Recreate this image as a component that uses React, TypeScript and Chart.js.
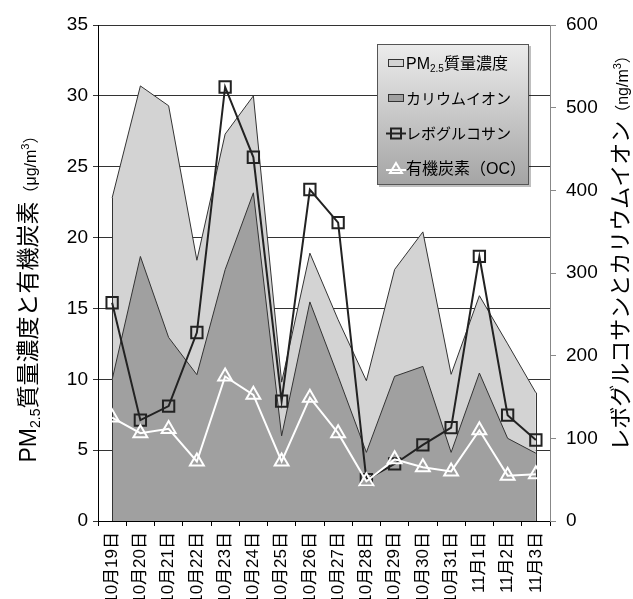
import React, { useEffect, useRef } from "react";
import { Chart, registerables } from "chart.js";

Chart.register(...registerables);

// Sampling days
const dates = [
  "10月19日", "10月20日", "10月21日", "10月22日", "10月23日", "10月24日",
  "10月25日", "10月26日", "10月27日", "10月28日", "10月29日", "10月30日",
  "10月31日", "11月1日", "11月2日", "11月3日",
];

// Left axis (μg/m3)
const pm25 = [22.8, 30.7, 29.3, 18.4, 27.3, 30.0, 9.8, 18.9, 14.2, 9.9, 17.75, 20.4, 10.35, 15.9, 12.5, 9.05];
const organicCarbon = [7.3, 6.2, 6.5, 4.2, 10.2, 8.9, 4.2, 8.7, 6.2, 2.8, 4.35, 3.8, 3.5, 6.4, 3.2, 3.3];

// Right axis (ng/m3)
const potassium = [171, 320, 222, 177, 304, 397, 103, 265, 175, 83, 175, 187, 83, 179, 100, 82];
const levoglucosan = [264, 122, 139, 228, 525, 440, 145, 401, 361, 50, 69, 92, 113, 320, 128, 98];

// Axis ranges
const leftMax = 35;
const leftStep = 5;
const rightMax = 600;
const rightStep = 100;

const FONT = "'Liberation Sans', 'Noto Sans CJK JP', sans-serif";

const PM_FILL = "#d3d3d3";
const K_FILL = "#a0a0a0";
const EDGE = "#333333";
const LEVO = "#222222";

type Seg = { t: string; size: number; shift?: number };

// Draws a run of mixed-size text (sub/superscripts) centred at (cx, cy), rotated by angle
function drawRich(ctx: CanvasRenderingContext2D, segs: Seg[], cx: number, cy: number, angle: number, base: number) {
  ctx.save();
  ctx.translate(cx, cy);
  ctx.rotate(angle);
  ctx.textAlign = "left";
  ctx.textBaseline = "alphabetic";
  ctx.fillStyle = "#000";
  let total = 0;
  const widths = segs.map((s) => {
    ctx.font = `${s.size}px ${FONT}`;
    const w = ctx.measureText(s.t).width;
    total += w;
    return w;
  });
  let x = -total / 2;
  segs.forEach((s, i) => {
    ctx.font = `${s.size}px ${FONT}`;
    ctx.fillText(s.t, x, base + (s.shift || 0));
    x += widths[i];
  });
  ctx.restore();
}

// Left-aligned mixed-size text
function drawRichLeft(ctx: CanvasRenderingContext2D, segs: Seg[], x0: number, y: number) {
  ctx.save();
  ctx.textAlign = "left";
  ctx.textBaseline = "alphabetic";
  ctx.fillStyle = "#000";
  let x = x0;
  segs.forEach((s) => {
    ctx.font = `${s.size}px ${FONT}`;
    ctx.fillText(s.t, x, y + (s.shift || 0));
    x += ctx.measureText(s.t).width;
  });
  ctx.restore();
}

const axisTitles = {
  id: "axisTitles",
  afterDraw(chart: Chart) {
    const ctx = chart.ctx;
    const area = chart.chartArea;
    const midY = (area.top + area.bottom) / 2;
    drawRich(
      ctx,
      [
        { t: "PM", size: 23 },
        { t: "2.5", size: 14, shift: 4 },
        { t: "質量濃度と有機炭素", size: 23 },
        { t: "（μg/m", size: 16 },
        { t: "3", size: 11, shift: -7 },
        { t: "）", size: 16 },
      ],
      28, midY + 22, -Math.PI / 2, 8
    );
    drawRich(
      ctx,
      [
        { t: "レボグルコサンとカリウムイオン", size: 22 },
        { t: "（ng/m", size: 16 },
        { t: "3", size: 11, shift: -7 },
        { t: "）", size: 16 },
      ],
      620, midY - 24, -Math.PI / 2, 8
    );
  },
};

// Closes the area outlines with vertical edges at the first and last points
const areaEdges = {
  id: "areaEdges",
  afterDatasetDraw(chart: Chart, args: any) {
    const ds: any = chart.data.datasets[args.index];
    if (!ds.fill) return;
    const meta = chart.getDatasetMeta(args.index);
    const pts = meta.data;
    if (!pts.length) return;
    const scale: any = chart.scales[ds.yAxisID];
    const y0 = scale.getPixelForValue(0);
    const ctx = chart.ctx;
    ctx.save();
    ctx.strokeStyle = EDGE;
    ctx.lineWidth = 1;
    [pts[0], pts[pts.length - 1]].forEach((p: any) => {
      ctx.beginPath();
      ctx.moveTo(Math.round(p.x) + 0.5, p.y);
      ctx.lineTo(Math.round(p.x) + 0.5, y0);
      ctx.stroke();
    });
    ctx.restore();
  },
};

const legendBox = {
  id: "legendBox",
  afterDraw(chart: Chart) {
    const ctx = chart.ctx;
    const x = 377, y = 44, w = 152, h = 141;
    ctx.save();
    const g = ctx.createLinearGradient(0, y, 0, y + h);
    g.addColorStop(0, "#ececec");
    g.addColorStop(1, "#a4a4a4");
    ctx.fillStyle = "rgba(0,0,0,0.25)";
    ctx.fillRect(x + 2, y + 2, w, h);
    ctx.fillStyle = g;
    ctx.fillRect(x, y, w, h);
    ctx.strokeStyle = "#555";
    ctx.lineWidth = 1;
    ctx.strokeRect(x + 0.5, y + 0.5, w - 1, h - 1);

    const sx = 388, sw = 16, tx = 406;
    const rows = [63, 98, 133, 168];
    // area swatches
    ctx.fillStyle = PM_FILL;
    ctx.fillRect(sx, rows[0] - 4, sw, 8);
    ctx.strokeStyle = EDGE;
    ctx.strokeRect(sx + 0.5, rows[0] - 3.5, sw - 1, 7);
    ctx.fillStyle = K_FILL;
    ctx.fillRect(sx, rows[1] - 4, sw, 8);
    ctx.strokeRect(sx + 0.5, rows[1] - 3.5, sw - 1, 7);
    // line swatches
    ctx.lineWidth = 2;
    ctx.strokeStyle = LEVO;
    ctx.beginPath();
    ctx.moveTo(sx - 2, rows[2] + 0.5);
    ctx.lineTo(sx + sw + 2, rows[2] + 0.5);
    ctx.stroke();
    ctx.strokeRect(sx + sw / 2 - 5, rows[2] - 4.5, 10, 10);
    ctx.strokeStyle = "#fff";
    ctx.beginPath();
    ctx.moveTo(sx - 2, rows[3] + 2);
    ctx.lineTo(sx + sw + 2, rows[3] + 2);
    ctx.stroke();
    ctx.beginPath();
    ctx.moveTo(sx + sw / 2, rows[3] - 5);
    ctx.lineTo(sx + sw / 2 + 6, rows[3] + 5);
    ctx.lineTo(sx + sw / 2 - 6, rows[3] + 5);
    ctx.closePath();
    ctx.stroke();
    ctx.restore();

    drawRichLeft(ctx, [{ t: "PM", size: 16 }, { t: "2.5", size: 10, shift: 3 }, { t: "質量濃度", size: 16 }], tx, rows[0] + 6);
    drawRichLeft(ctx, [{ t: "カリウムイオン", size: 15 }], tx, rows[1] + 6);
    drawRichLeft(ctx, [{ t: "レボグルコサン", size: 15 }], tx, rows[2] + 6);
    drawRichLeft(ctx, [{ t: "有機炭素（OC）", size: 16 }], tx, rows[3] + 6);
  },
};

export default function App() {
  const ref = useRef<HTMLCanvasElement | null>(null);

  useEffect(() => {
    if (!ref.current) return;
    const chart = new Chart(ref.current, {
      type: "line",
      data: {
        labels: dates,
        datasets: [
          {
            label: "PM2.5質量濃度",
            data: pm25,
            yAxisID: "y",
            fill: "origin",
            backgroundColor: PM_FILL,
            borderColor: EDGE,
            borderWidth: 1,
            pointRadius: 0,
            tension: 0,
            order: 4,
          },
          {
            label: "カリウムイオン",
            data: potassium,
            yAxisID: "y2",
            fill: "origin",
            backgroundColor: K_FILL,
            borderColor: EDGE,
            borderWidth: 1,
            pointRadius: 0,
            tension: 0,
            order: 3,
          },
          {
            label: "レボグルコサン",
            data: levoglucosan,
            yAxisID: "y2",
            fill: false,
            borderColor: LEVO,
            borderWidth: 2,
            pointStyle: "rect",
            pointRadius: 8,
            pointBorderWidth: 2,
            pointBorderColor: LEVO,
            pointBackgroundColor: "rgba(0,0,0,0)",
            tension: 0,
            order: 2,
          },
          {
            label: "有機炭素(OC)",
            data: organicCarbon,
            yAxisID: "y",
            fill: false,
            borderColor: "#ffffff",
            borderWidth: 2,
            pointStyle: "triangle",
            pointRadius: 8,
            pointBorderWidth: 2,
            pointBorderColor: "#ffffff",
            pointBackgroundColor: "rgba(0,0,0,0)",
            tension: 0,
            order: 1,
          },
        ],
      },
      options: {
        responsive: false,
        animation: false,
        events: [],
        layout: { padding: { top: 25, left: 0, right: 0, bottom: 0 } },
        plugins: {
          legend: { display: false },
          tooltip: { enabled: false },
          title: { display: false },
        },
        scales: {
          x: {
            type: "category",
            offset: true,
            grid: {
              offset: true,
              drawOnChartArea: false,
              drawTicks: true,
              tickLength: 5,
              color: "#000",
            },
            border: { color: "#000", width: 1 },
            ticks: {
              autoSkip: false,
              minRotation: 90,
              maxRotation: 90,
              padding: 6,
              color: "#000",
              font: { family: FONT, size: 17 },
            },
            afterFit: (s: any) => {
              s.height = 78;
            },
          },
          y: {
            position: "left",
            min: 0,
            max: leftMax,
            ticks: {
              stepSize: leftStep,
              padding: 5,
              color: "#000",
              font: { family: FONT, size: 19 },
            },
            grid: {
              color: "#333",
              lineWidth: 1,
              tickLength: 5,
              drawTicks: true,
            },
            border: { color: "#000", width: 1 },
            afterFit: (s: any) => {
              s.width = 98;
            },
          },
          y2: {
            position: "right",
            min: 0,
            max: rightMax,
            ticks: {
              stepSize: rightStep,
              padding: 10,
              color: "#000",
              font: { family: FONT, size: 19 },
            },
            grid: {
              drawOnChartArea: false,
              color: "#888",
              tickLength: 6,
            },
            border: { color: "#888", width: 1 },
            afterFit: (s: any) => {
              s.width = 83;
            },
          },
        },
      },
      plugins: [areaEdges, axisTitles, legendBox],
    });
    return () => chart.destroy();
  }, []);

  return (
    <div style={{ position: "fixed", left: 0, top: 0, width: 633, height: 599, background: "#fff" }}>
      <canvas ref={ref} width={633} height={599} />
    </div>
  );
}
